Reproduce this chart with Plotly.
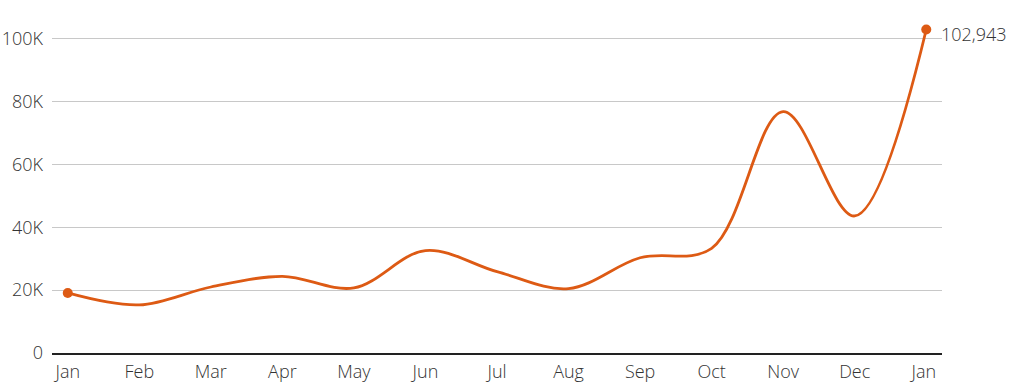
import plotly.graph_objects as go

months = ["Jan", "Feb", "Mar", "Apr", "May", "Jun", "Jul", "Aug", "Sep", "Oct", "Nov", "Dec", "Jan "]
values = [19100, 15300, 21000, 24400, 20700, 32600, 25900, 20500, 30300, 33300, 76800, 43600, 102943]
ytick_vals = [0, 20000, 40000, 60000, 80000, 100000]
ytick_text = ["0", "20K", "40K", "60K", "80K", "100K"]

orange = "#dd5a14"
font_family = "'Source Sans Pro', 'Open Sans', Lato, sans-serif"

xs = list(range(len(months)))

fig = go.Figure()
fig.add_trace(go.Scatter(
    x=xs, y=values, mode="lines",
    line=dict(color=orange, width=2.8, shape="spline", smoothing=1.0),
    hoverinfo="skip", showlegend=False,
))
fig.add_trace(go.Scatter(
    x=[xs[0], xs[-1]], y=[values[0], values[-1]], mode="markers",
    marker=dict(color=orange, size=10),
    hoverinfo="skip", showlegend=False,
))
fig.add_annotation(
    x=xs[-1], y=values[-1], text=f"{values[-1]:,}", showarrow=False,
    xanchor="left", yanchor="middle", xshift=13, yshift=-5,
    font=dict(family=font_family, size=18, color="#333", weight=300),
)

fig.update_layout(
    width=1024, height=384,
    margin=dict(l=52, r=82, t=23, b=31),
    paper_bgcolor="white", plot_bgcolor="white",
    font=dict(family=font_family, size=18, color="#333", weight=300),
    xaxis=dict(
        range=[-0.22, 12.22], tickmode="array", tickvals=xs, ticktext=months,
        showgrid=False, zeroline=False, showline=True, linecolor="#222", linewidth=1.5,
        ticks="", ticklabelstandoff=2, fixedrange=True, automargin=False,
    ),
    yaxis=dict(
        range=[0, 105000], tickmode="array", tickvals=ytick_vals, ticktext=ytick_text,
        showgrid=True, gridcolor="#c8c8c8", gridwidth=1, zeroline=False,
        ticks="", ticklabelstandoff=8, fixedrange=True, automargin=False,
    ),
)

fig.write_html("out.html")
